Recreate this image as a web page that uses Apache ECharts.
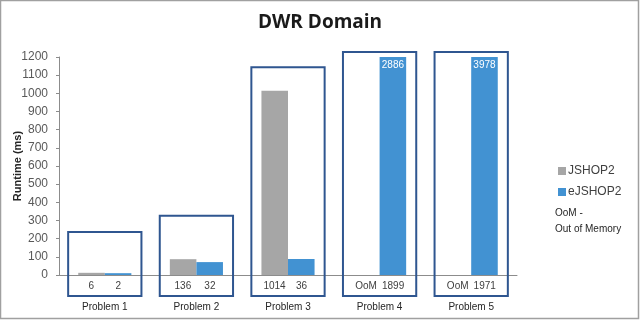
<!DOCTYPE html>
<html>
<head>
<meta charset="utf-8">
<script src="https://cdn.jsdelivr.net/npm/echarts@6/dist/echarts.min.js"></script>
<style>
html, body { margin: 0; padding: 0; background: #fff; }
#chart { width: 640px; height: 321px; }
</style>
</head>
<body>
<div id="chart"></div>
<script>
// data
var problems = ['Problem 1', 'Problem 2', 'Problem 3', 'Problem 4', 'Problem 5'];
var jshop2 = [12, 87, 1014, null, null];
var ejshop2 = [10, 71, 88, 2886, 3978];
// numbers printed in the table row under the axis
var jshopText = ['6', '136', '1014', 'OoM', 'OoM'];
var ejshopText = ['2', '32', '36', '1899', '1971'];
// top of the outline box around each problem (axis units)
var boxTop = [237, 326, 1143, 1228, 1228];
// y axis: min, step, max
var yMin = 0, yStep = 100, yMax = 1200;

var chart = echarts.init(document.getElementById('chart'));

chart.setOption({
	animation: false,
	title: {
		text: 'DWR Domain',
		left: 'center',
		top: 8,
		textStyle: { fontFamily: 'Open Sans', fontWeight: 'bold', fontSize: 19, color: '#1a1a1a' }
	},
	legend: {
		orient: 'vertical',
		left: 553,
		top: 160,
		itemWidth: 8,
		itemHeight: 8,
		itemGap: 9,
		icon: 'rect',
		data: ['JSHOP2', 'eJSHOP2'],
		textStyle: { fontFamily: 'Liberation Sans', fontSize: 12, color: '#404040', padding: [0, 0, 0, -3] }
	},
	grid: { left: 59, right: 123, top: 57, bottom: 46, outerBoundsMode: 'none' },
	xAxis: {
		type: 'category',
		data: problems,
		axisLine: { lineStyle: { color: '#8c8c8c', width: 1 } },
		axisTick: { show: false },
		axisLabel: {
			margin: 3,
			interval: 0,
			formatter: function (v, i) {
				return '{g|' + jshopText[i] + '}{b|' + ejshopText[i] + '}\n{n|' + v + '}';
			},
			rich: {
				g: { width: 27, align: 'center', fontSize: 10, lineHeight: 16, color: '#404040', fontFamily: 'Liberation Sans' },
				b: { width: 27, align: 'center', fontSize: 10, lineHeight: 16, color: '#404040', fontFamily: 'Liberation Sans' },
				n: { fontSize: 10, lineHeight: 27, color: '#262626', fontFamily: 'Liberation Sans' }
			}
		}
	},
	yAxis: {
		type: 'value',
		min: yMin,
		max: yMax,
		interval: yStep,
		name: 'Runtime (ms)',
		nameLocation: 'middle',
		nameGap: 36,
		nameMoveOverlap: false,
		nameTextStyle: { fontFamily: 'Liberation Sans', fontWeight: 'bold', fontSize: 11, color: '#262626' },
		splitLine: { show: false },
		axisLine: { show: true, lineStyle: { color: '#8c8c8c' } },
		axisTick: { show: true, length: 3, lineStyle: { color: '#8c8c8c' } },
		axisLabel: {
			margin: 11,
			fontFamily: 'Liberation Sans',
			fontSize: 12,
			color: '#595959',
			formatter: function (v) { return String(v); }
		}
	},
	series: [
		{
			name: 'JSHOP2',
			type: 'bar',
			data: jshop2,
			barGap: '0%',
			barCategoryGap: '42%',
			itemStyle: { color: '#a6a6a6' }
		},
		{
			name: 'eJSHOP2',
			type: 'bar',
			data: ejshop2,
			itemStyle: { color: '#4292d2' },
			label: {
				show: true,
				position: 'insideTop',
				distance: 3,
				color: '#fff',
				fontSize: 10,
				fontFamily: 'Liberation Sans',
				formatter: function (p) { return p.value > yMax ? p.value : ''; }
			}
		},
		{
			// outline boxes round each problem
			type: 'custom',
			silent: true,
			clip: false,
			z: 5,
			data: boxTop.map(function (t, i) { return [i, t]; }),
			renderItem: function (params, api) {
				var c = api.coord([api.value(0), api.value(1)]);
				var zero = api.coord([api.value(0), 0]);
				var w = api.size([1, 0])[0] * 0.8;
				return {
					type: 'rect',
					shape: { x: c[0] - w / 2, y: c[1], width: w, height: zero[1] - c[1] + 21 },
					style: { fill: 'none', stroke: '#2f5690', lineWidth: 2 }
				};
			}
		}
	],
	graphic: [
		{
			type: 'rect',
			shape: { x: 0.5, y: 0.5, width: 638, height: 318 },
			style: { fill: 'none', stroke: '#a0a0a0', lineWidth: 1.5 },
			silent: true
		},
		{
			type: 'text',
			left: 555,
			top: 205,
			style: {
				text: 'OoM -\nOut of Memory',
				fontFamily: 'Liberation Sans',
				fontSize: 10,
				lineHeight: 16,
				fill: '#262626'
			}
		}
	]
});
window.onresize = chart.resize;
</script>
</body>
</html>
